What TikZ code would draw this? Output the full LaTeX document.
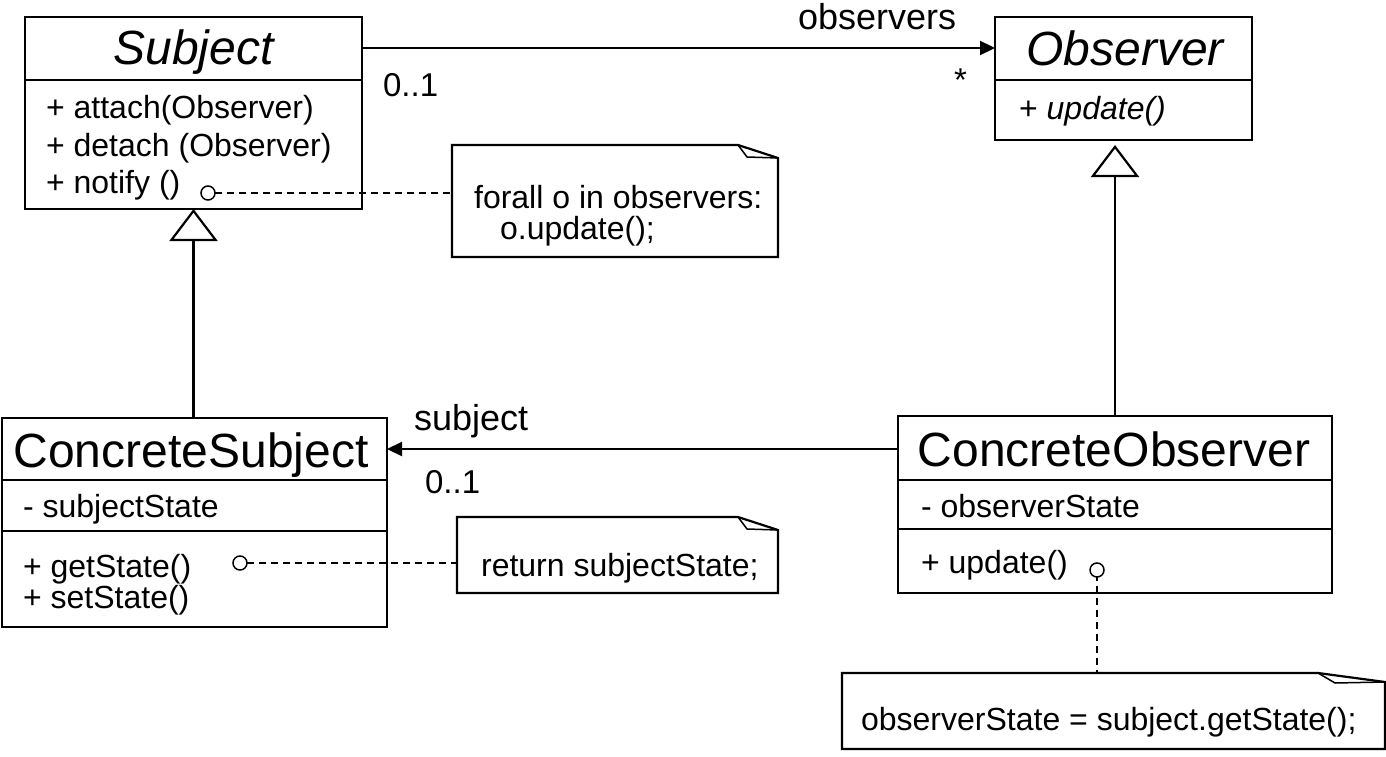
\documentclass[tikz,border=0pt]{standalone}
\usepackage{fontspec}
\setmainfont{Liberation Sans}
\usetikzlibrary{arrows.meta}

\tikzset{
  classbox/.style={draw=black,line width=2.2pt,inner sep=0pt,outer sep=0pt},
  notebox/.style={inner sep=0pt,outer sep=0pt},
  classname/.style={anchor=base,inner sep=0pt,font=\fontsize{48}{56}\selectfont},
  member/.style={anchor=base west,inner sep=0pt,font=\fontsize{32}{38}\selectfont},
  rolename/.style={anchor=base west,inner sep=0pt,font=\fontsize{36}{42}\selectfont},
  mult/.style={anchor=base west,inner sep=0pt,font=\fontsize{33}{39}\selectfont},
  port/.style={circle,draw=black,line width=1.5pt,minimum size=14pt,inner sep=0pt,outer sep=0pt},
  anchorline/.style={line width=1.5pt,dash pattern=on 7pt off 5pt},
  assoc/.style={line width=2.2pt,-{Triangle[length=15pt,width=14pt]}},
  inherit/.style={line width=2.2pt,-{Triangle[open,length=32pt,width=48pt]}}
}

\begin{document}
\begin{tikzpicture}[x=1pt,y=-1pt,line width=2.2pt]
\useasboundingbox (0,0) rectangle (1386,757);

% class boxes
\node[classbox,minimum width=337pt,minimum height=192pt] (subject) at (193.5,113) {};
\node[classbox,minimum width=257pt,minimum height=123pt] (observer) at (1123.5,78.5) {};
\node[classbox,minimum width=385pt,minimum height=209pt] (csubject) at (194.5,522.5) {};
\node[classbox,minimum width=434pt,minimum height=177pt] (cobserver) at (1115,504.5) {};

% compartments
\draw ([yshift=-63pt]subject.north west) -- ([yshift=-63pt]subject.north east);
\draw ([yshift=-63pt]observer.north west) -- ([yshift=-63pt]observer.north east);
\draw ([yshift=-62pt]csubject.north west) -- ([yshift=-62pt]csubject.north east);
\draw ([yshift=-113pt]csubject.north west) -- ([yshift=-113pt]csubject.north east);
\draw ([yshift=-64pt]cobserver.north west) -- ([yshift=-64pt]cobserver.north east);
\draw ([yshift=-113pt]cobserver.north west) -- ([yshift=-113pt]cobserver.north east);

% names and members
\node[classname] (subjectname) at (193.5,65) {\itshape Subject};
\node[member] (attach) at (45,119) {+ attach(Observer)};
\node[member] (detach) at (45,156) {+ detach (Observer)};
\node[member] (notify) at (45,193) {+ notify ()};

\node[classname] (observername) at (1125,66) {\itshape Observer};
\node[member] (update) at (1018,120) {+ \itshape update()};

\node[classname] (csubjectname) at (191,467) {ConcreteSubject};
\node[member] (subjectstate) at (22,517) {- subjectState};
\node[member] (getstate) at (22,577) {+ getState()};
\node[member] (setstate) at (22,608) {+ setState()};

\node[classname] (cobservername) at (1114,466) {ConcreteObserver};
\node[member] (observerstate) at (920,517) {- observerState};
\node[member] (cupdate) at (920,573) {+ update()};

% notes
\node[notebox,minimum width=326pt,minimum height=112pt] (note1) at (615,201) {};
\node[notebox,minimum width=321pt,minimum height=76pt] (note2) at (617.5,555) {};
\node[notebox,minimum width=543pt,minimum height=76pt] (note3) at (1113.5,711) {};

\draw (note1.north west) -- ([xshift=-40pt]note1.north east) -- ([yshift=-13pt]note1.north east) -- (note1.south east) -- (note1.south west) -- cycle;
\draw[line width=1.5pt] ([xshift=-40pt]note1.north east) -- ([xshift=-31pt,yshift=-12pt]note1.north east) -- ([yshift=-13pt]note1.north east);
\draw (note2.north west) -- ([xshift=-40pt]note2.north east) -- ([yshift=-13pt]note2.north east) -- (note2.south east) -- (note2.south west) -- cycle;
\draw[line width=1.5pt] ([xshift=-40pt]note2.north east) -- ([xshift=-31pt,yshift=-12pt]note2.north east) -- ([yshift=-13pt]note2.north east);
\draw (note3.north west) -- ([xshift=-67pt]note3.north east) -- ([yshift=-9pt]note3.north east) -- (note3.south east) -- (note3.south west) -- cycle;
\draw[line width=1.5pt] ([xshift=-67pt]note3.north east) -- ([xshift=-50pt,yshift=-10pt]note3.north east) -- ([yshift=-9pt]note3.north east);

\node[member] (foralltext) at (473,208) {forall o in observers:};
\node[member] (updatetext) at (499,239) {o.update();};
\node[member] (returntext) at (480,576) {return subjectState;};
\node[member] (assigntext) at (860,730) {observerState = subject.getState();};

% note anchors
\node[port] (notifyport) at (208,193) {};
\node[port] (getport) at (240,563) {};
\node[port] (updateport) at (1097,570) {};
\draw[anchorline] (notifyport) -- (notifyport -| note1.west);
\draw[anchorline] (getport) -- (getport -| note2.west);
\draw[anchorline,dash phase=3pt] (updateport) -- (updateport |- note3.north);

% generalisation
\draw[inherit] (subject.south |- csubject.north) -- (subject.south);
\draw[inherit,shorten >=5pt] (cobserver.north) -- (cobserver.north |- observer.south);

% associations
\draw[assoc] ([yshift=-31pt]subject.north east) -- ([yshift=-31pt]observer.north west);
\draw[assoc] ([yshift=-33pt]cobserver.north west) -- ([yshift=-31pt]csubject.north east);

\node[rolename] (observersrole) at (797,30) {observers};
\node[mult] (observersmult) at (382,97) {0..1};
\node[mult] (observersstar) at (953,92) {*};
\node[rolename] (subjectrole) at (413,430) {subject};
\node[mult] (subjectmult) at (424,493) {0..1};
\end{tikzpicture}
\end{document}
